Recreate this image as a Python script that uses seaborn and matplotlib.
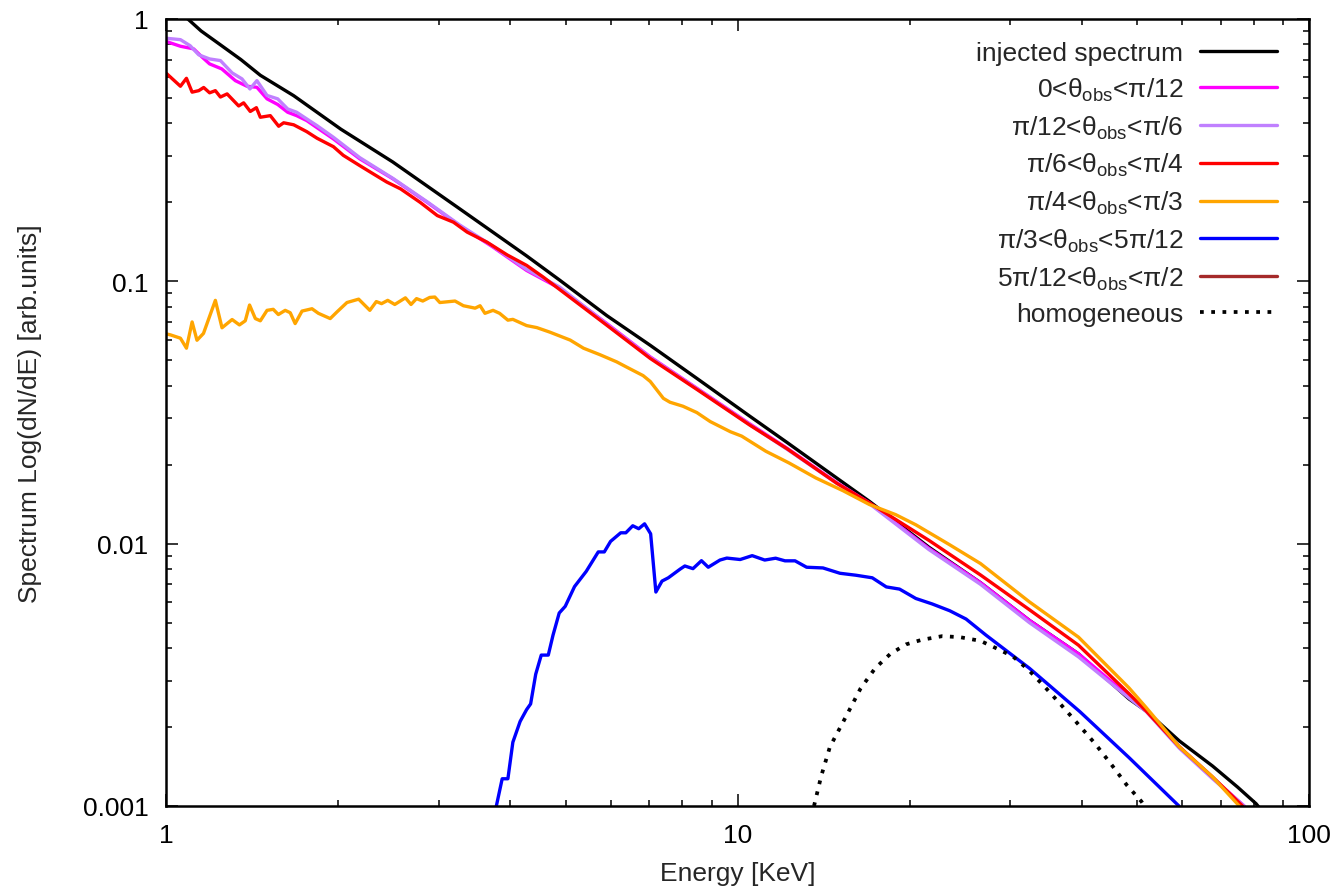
import matplotlib
matplotlib.use("Agg")
import matplotlib.pyplot as plt
import matplotlib.ticker as mticker
import seaborn as sns

# injected spectrum
e_inj = [1.0, 1.09, 1.15, 1.24, 1.35, 1.46, 1.67, 2.02, 2.49, 3.26, 4.27, 4.88, 5.9, 7.03,
         8.5, 10.5, 12.2, 14.9, 17.0, 21.6, 26.6, 32.4, 39.5, 48.4, 51.9, 59.3, 67.8, 75.0,
         80.8, 83.0]
y_inj = [1.12, 1.0, 0.90, 0.80, 0.70, 0.61, 0.51, 0.38, 0.285, 0.189, 0.125, 0.101, 0.0740,
         0.057, 0.0425, 0.0306, 0.0243, 0.0178, 0.0145, 0.0097, 0.0071, 0.0051, 0.0038,
         0.00256, 0.0023, 0.00177, 0.00142, 0.00118, 0.00102, 0.00095]

# 0 < theta < pi/12
e_m = [1.0, 1.058, 1.116, 1.155, 1.19, 1.25, 1.32, 1.383, 1.44, 1.50, 1.566, 1.63, 1.69,
       1.76, 1.835, 1.96, 2.18, 2.49, 2.86, 3.26, 3.73, 4.27, 4.88, 5.9, 7.03, 8.5, 10.5,
       12.2, 14.9, 17.0, 21.6, 26.6, 32.4, 39.5, 48.4, 51.9, 59.3, 67.8, 77.0]
y_m = [0.82, 0.787, 0.769, 0.715, 0.674, 0.645, 0.582, 0.554, 0.549, 0.496, 0.472, 0.441,
       0.428, 0.410, 0.385, 0.349, 0.293, 0.246, 0.200, 0.163, 0.135, 0.110, 0.094, 0.069,
       0.0515, 0.0390, 0.0286, 0.0231, 0.0171, 0.0143, 0.0096, 0.0071, 0.0051, 0.0038,
       0.00262, 0.0023, 0.00168, 0.00128, 0.00100]

# pi/12 < theta < pi/6
e_l = [1.0, 1.058, 1.10, 1.139, 1.19, 1.243, 1.303, 1.356, 1.40, 1.44, 1.50, 1.566, 1.63,
       1.69, 1.76, 1.835, 1.96, 2.18, 2.49, 2.86, 3.26, 3.73, 4.27, 4.88, 5.9, 7.03, 8.5,
       10.5, 12.2, 14.9, 17.0, 21.6, 26.6, 32.4, 39.5, 48.4, 51.9, 59.3, 67.8, 77.0]
y_l = [0.844, 0.834, 0.791, 0.730, 0.704, 0.694, 0.623, 0.591, 0.541, 0.582, 0.511, 0.496,
       0.454, 0.441, 0.416, 0.392, 0.354, 0.296, 0.247, 0.201, 0.164, 0.136, 0.111, 0.095,
       0.0685, 0.0512, 0.0388, 0.0284, 0.0229, 0.0170, 0.0142, 0.0095, 0.0070, 0.0050,
       0.0037, 0.00258, 0.00229, 0.00166, 0.00127, 0.00100]

# pi/6 < theta < pi/4
e_r = [1.0, 1.058, 1.084, 1.109, 1.139, 1.162, 1.19, 1.218, 1.243, 1.277, 1.338, 1.365,
       1.402, 1.437, 1.46, 1.52, 1.572, 1.604, 1.67, 1.76, 1.835, 1.96, 2.04, 2.18, 2.30,
       2.43, 2.57, 2.78, 2.98, 3.18, 3.36, 3.64, 3.95, 4.27, 4.56, 4.88, 5.9, 7.03, 8.5,
       10.5, 12.2, 14.9, 17.0, 21.6, 26.6, 32.4, 39.5, 48.4, 51.9, 59.3, 67.8, 76.5]
y_r = [0.62, 0.554, 0.594, 0.526, 0.533, 0.548, 0.523, 0.533, 0.504, 0.518, 0.466, 0.479,
       0.444, 0.459, 0.422, 0.428, 0.390, 0.402, 0.395, 0.372, 0.351, 0.326, 0.302, 0.276,
       0.257, 0.239, 0.225, 0.200, 0.178, 0.168, 0.154, 0.141, 0.126, 0.115, 0.104, 0.093,
       0.068, 0.0508, 0.0386, 0.0283, 0.0230, 0.0170, 0.0143, 0.0103, 0.0076, 0.0056,
       0.0041, 0.00268, 0.0023, 0.00168, 0.00129, 0.00100]

# pi/4 < theta < pi/3
e_o = [1.0, 1.016, 1.058, 1.084, 1.109, 1.131, 1.161, 1.218, 1.251, 1.303, 1.342, 1.374,
       1.398, 1.431, 1.46, 1.50, 1.538, 1.57, 1.614, 1.647, 1.68, 1.727, 1.798, 1.845,
       1.935, 1.988, 2.07, 2.17, 2.27, 2.33, 2.38, 2.44, 2.51, 2.62, 2.68, 2.74, 2.81,
       2.89, 2.95, 3.01, 3.20, 3.31, 3.47, 3.54, 3.61, 3.73, 3.83, 3.96, 4.04, 4.27, 4.45,
       4.69, 5.09, 5.37, 5.74, 6.14, 6.39, 6.83, 7.03, 7.41, 7.61, 8.02, 8.48, 8.95, 9.71,
       10.16, 11.2, 12.3, 13.7, 15.3, 17.0, 18.9, 20.5, 23.5, 26.6, 32.4, 39.5, 48.4,
       51.9, 59.3, 67.8, 75.5]
y_o = [0.063, 0.0625, 0.0607, 0.0556, 0.0700, 0.0596, 0.0633, 0.0846, 0.0665, 0.0715,
       0.0682, 0.0707, 0.0812, 0.0721, 0.0707, 0.0775, 0.0782, 0.0747, 0.0775, 0.0759,
       0.0690, 0.0770, 0.0786, 0.0755, 0.0721, 0.0764, 0.0830, 0.0855, 0.0775, 0.0837,
       0.0822, 0.0846, 0.0816, 0.0865, 0.0816, 0.0859, 0.0841, 0.0868, 0.0871, 0.0830,
       0.0841, 0.0807, 0.0790, 0.0807, 0.0755, 0.0775, 0.0755, 0.0711, 0.0716, 0.0678,
       0.0666, 0.0640, 0.0597, 0.0556, 0.0525, 0.0493, 0.0471, 0.0437, 0.0415, 0.0358,
       0.0346, 0.0334, 0.0316, 0.0292, 0.0267, 0.0257, 0.0225, 0.0203, 0.0178, 0.0159,
       0.0141, 0.0129, 0.0118, 0.0099, 0.0084, 0.0060, 0.0044, 0.00282, 0.00237, 0.00168,
       0.00129, 0.00100]

# pi/3 < theta < 5pi/12
e_b = [3.78, 3.87, 3.96, 4.04, 4.16, 4.27, 4.34, 4.43, 4.53, 4.66, 4.75, 4.87, 4.99, 5.18,
       5.43, 5.70, 5.84, 5.99, 6.24, 6.37, 6.55, 6.71, 6.87, 7.04, 7.19, 7.37, 7.56, 7.93,
       8.08, 8.35, 8.64, 8.88, 9.31, 9.57, 10.1, 10.6, 11.15, 11.65, 12.1, 12.6, 13.2, 14.1,
       15.1, 16.1, 17.2, 18.2, 19.2, 20.5, 21.9, 23.5, 25.1, 27.2, 32.4, 39.7, 48.4, 59.2]
y_b = [0.00100, 0.00127, 0.00127, 0.00175, 0.00210, 0.00233, 0.00245, 0.00318, 0.00376,
       0.00376, 0.00448, 0.00544, 0.00577, 0.00686, 0.00784, 0.00930, 0.00930, 0.0102,
       0.0110, 0.0110, 0.0117, 0.0114, 0.0119, 0.0109, 0.00654, 0.00720, 0.00741, 0.00800,
       0.00822, 0.00803, 0.00861, 0.00813, 0.00866, 0.00881, 0.0087, 0.0090, 0.00866,
       0.0088, 0.0086, 0.0086, 0.00813, 0.00808, 0.00771, 0.00758, 0.00741, 0.00684,
       0.00671, 0.00618, 0.00589, 0.00555, 0.00516, 0.00448, 0.00335, 0.00229, 0.00153,
       0.00100]

# 5pi/12 < theta < pi/2 : nothing above 0.001 in this range
e_br = []
y_br = []

# homogeneous
e_h = [13.6, 14.0, 14.5, 15.5, 16.4, 17.4, 18.5, 19.7, 21.0, 22.8, 24.5, 26.6, 28.3, 30.3,
       32.3, 34.6, 37.0, 39.6, 42.3, 45.3, 48.0, 50.9, 51.5]
y_h = [0.00100, 0.00130, 0.00168, 0.00221, 0.00280, 0.00335, 0.0038, 0.00413, 0.0043,
       0.00444, 0.0044, 0.00426, 0.0040, 0.00372, 0.0033, 0.00282, 0.0024, 0.00203,
       0.00172, 0.00142, 0.00120, 0.00104, 0.00100]

labels = ["injected spectrum",
          "0<θ$_{\\rm obs}$<π/12",
          "π/12<θ$_{\\rm obs}$<π/6",
          "π/6<θ$_{\\rm obs}$<π/4",
          "π/4<θ$_{\\rm obs}$<π/3",
          "π/3<θ$_{\\rm obs}$<5π/12",
          "5π/12<θ$_{\\rm obs}$<π/2",
          "homogeneous"]
colors = ["black", "#ff00ff", "#c080ff", "#ff0000", "#ffa500", "#0000ff", "#a52a2a", "black"]

sns.set_style("ticks")
plt.rcParams["font.family"] = ["Liberation Sans", "DejaVu Sans"]
plt.rcParams["mathtext.fontset"] = "custom"
plt.rcParams["mathtext.rm"] = "Liberation Sans"
plt.rcParams["mathtext.it"] = "Liberation Sans:italic"
plt.rcParams["mathtext.default"] = "regular"

fig = plt.figure(figsize=(13.39, 8.87), dpi=100)
ax = fig.add_axes([0.1243, 0.0902, 0.8533, 0.8873])

lw = 2.4
series = [(e_inj, y_inj), (e_m, y_m), (e_l, y_l), (e_r, y_r), (e_o, y_o), (e_b, y_b)]
for (ex, ey), lab, col in zip(series, labels[:6], colors[:6]):
    sns.lineplot(x=ex, y=ey, ax=ax, color=col, lw=lw, label=lab, sort=False, estimator=None)
ax.plot(e_br, y_br, color=colors[6], lw=lw, label=labels[6])
sns.lineplot(x=e_h, y=y_h, ax=ax, color=colors[7], lw=2.7, label=labels[7],
             linestyle=(0, (1, 2.0)), sort=False, estimator=None)

ax.set_xscale("log")
ax.set_yscale("log")
ax.set_xlim(1, 100)
ax.set_ylim(0.001, 1)

fmt = mticker.FuncFormatter(lambda v, _: f"{v:g}")
ax.xaxis.set_major_formatter(fmt)
ax.yaxis.set_major_formatter(fmt)
ax.xaxis.set_minor_formatter(mticker.NullFormatter())
ax.yaxis.set_minor_formatter(mticker.NullFormatter())

fs = 19
ax.tick_params(which="both", direction="in", top=True, right=True, colors="black",
               labelsize=fs, width=1.1)
ax.tick_params(which="major", length=8.6)
ax.tick_params(which="minor", length=4.3)
ax.tick_params(axis="x", pad=12)
ax.tick_params(axis="y", pad=13)
for sp in ax.spines.values():
    sp.set_visible(True)
    sp.set_color("black")
    sp.set_linewidth(1.8)

ax.set_xlabel("Energy [KeV]", fontsize=fs, labelpad=10)
ax.set_ylabel("Spectrum Log(dN/dE) [arb.units]", fontsize=fs, labelpad=29)

ax.legend(loc="upper right", bbox_to_anchor=(0.972, 0.972), frameon=False, fontsize=fs,
          markerfirst=False, handlelength=2.9, handletextpad=0.65, labelspacing=0.40,
          borderpad=0, borderaxespad=0)

fig.savefig("out.png", dpi=100)
